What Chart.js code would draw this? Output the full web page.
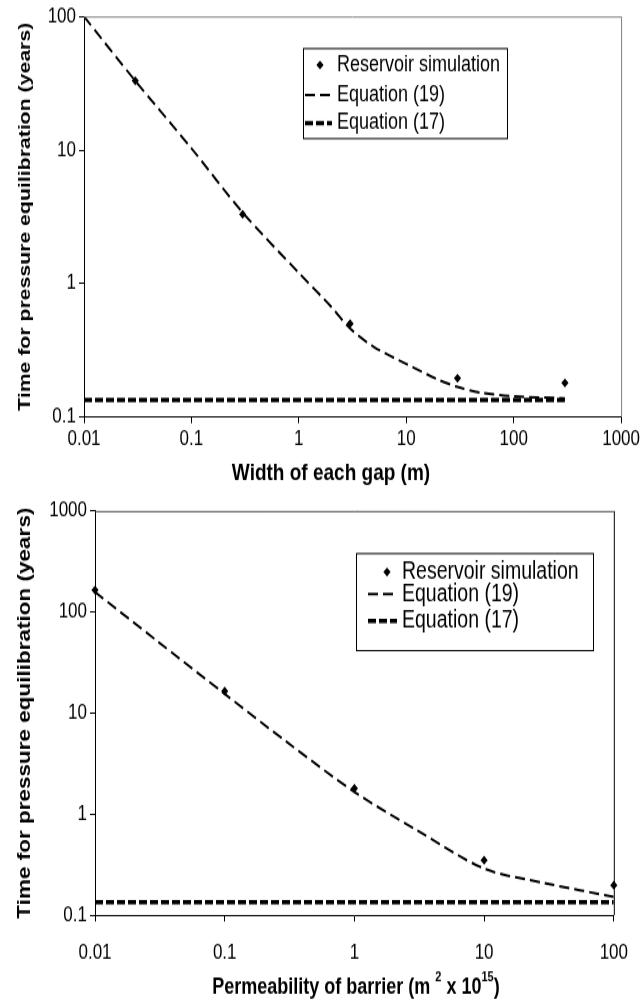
<!DOCTYPE html>
<html lang="en">
<head>
  <meta charset="UTF-8">
  <title>Time for pressure equilibration</title>
  <script src="https://cdn.jsdelivr.net/npm/chart.js"></script>
  <style>
    body { margin: 0; background: #fff; }
    /* the original figure is stretched vertically, the panels are scaled the same way */
    .panel { position: absolute; left: 0; transform-origin: 0 0; }
    #topPanel { top: 0; }
    #bottomPanel { top: 490px; }
  </style>
</head>
<body>
  <div class="panel" id="topPanel"><canvas id="gapChart"></canvas></div>
  <div class="panel" id="bottomPanel"><canvas id="permChart"></canvas></div>

  <script>
    // --- top panel: width of each gap ---
    const gapSimX = [0.03, 0.3, 3, 30, 300];
    const gapSimY = [33, 3.3, 0.5, 0.195, 0.18];
    const gapEqX = [0.01, 0.03, 0.1, 0.3, 1, 2, 3, 5, 10, 20, 30, 50, 100, 300];
    const gapEq19 = [100, 33, 10.3, 3.4, 1.2, 0.67, 0.46, 0.335, 0.25, 0.19, 0.168, 0.152, 0.143, 0.138];
    const gapEq17X = [0.01, 300];
    const gapEq17 = [0.134, 0.134];
    const gapXTicks = [0.01, 0.1, 1, 10, 100, 1000];
    const gapYTicks = [0.1, 1, 10, 100];

    // --- bottom panel: permeability of barrier ---
    const permSimX = [0.01, 0.1, 1, 10, 100];
    const permSimY = [165, 16.5, 1.8, 0.35, 0.198];
    const permEqX = [0.01, 0.03, 0.1, 0.3, 1, 3, 10, 30, 100];
    const permEq19 = [158, 52, 15.5, 5.2, 1.66, 0.70, 0.29, 0.207, 0.152];
    const permEq17X = [0.01, 100];
    const permEq17 = [0.135, 0.135];
    const permXTicks = [0.01, 0.1, 1, 10, 100];
    const permYTicks = [0.1, 1, 10, 100, 1000];

    const seriesNames = ['Reservoir simulation', 'Equation (19)', 'Equation (17)'];
    const yTitle = 'Time for pressure equilibration (years)';

    const K = 1.25; // vertical stretch of the figure
    const SANS = "'Liberation Sans', Arial, sans-serif";

    const pts = (xs, ys) => xs.map((x, i) => ({ x: x, y: ys[i] }));

    // top and right edges of the plot box
    const framePlugin = {
      id: 'frame',
      afterDraw(chart, args, opts) {
        const a = chart.chartArea, ctx = chart.ctx;
        ctx.save();
        ctx.lineWidth = 1;
        if (opts.top) {
          ctx.strokeStyle = opts.top;
          ctx.beginPath(); ctx.moveTo(a.left, a.top + 0.5); ctx.lineTo(a.right, a.top + 0.5); ctx.stroke();
        }
        if (opts.right) {
          ctx.strokeStyle = opts.right;
          ctx.beginPath(); ctx.moveTo(a.right + 0.5, a.top); ctx.lineTo(a.right + 0.5, a.bottom); ctx.stroke();
        }
        ctx.restore();
      }
    };

    // boxed legend inside the plot, built from the datasets
    const boxLegendPlugin = {
      id: 'boxLegend',
      afterDraw(chart, args, o) {
        const ctx = chart.ctx;
        ctx.save();
        ctx.fillStyle = '#fff';
        ctx.fillRect(o.x, o.y, o.w, o.h);
        ctx.strokeStyle = '#000';
        ctx.lineWidth = 1;
        ctx.strokeRect(o.x + 0.5, o.y + 0.5, o.w, o.h);
        ctx.font = o.fontSize + 'px ' + SANS;
        ctx.textBaseline = 'middle';
        ctx.fillStyle = '#000';
        chart.data.datasets.forEach((ds, i) => {
          const y = o.rows[i];
          if (ds.showLine === false) {
            const r = ds.pointRadius;
            ctx.beginPath();
            ctx.moveTo(o.markerX, y - r); ctx.lineTo(o.markerX + r, y);
            ctx.lineTo(o.markerX, y + r); ctx.lineTo(o.markerX - r, y);
            ctx.closePath(); ctx.fill();
          } else {
            ctx.save();
            ctx.strokeStyle = '#000';
            ctx.lineWidth = ds.borderWidth;
            ctx.setLineDash(ds.borderDash);
            ctx.beginPath(); ctx.moveTo(o.lineX0, y); ctx.lineTo(o.lineX1, y); ctx.stroke();
            ctx.restore();
          }
          ctx.fillText(ds.label, o.textX, y);
        });
        ctx.restore();
      }
    };

    // x-axis title with optional superscript parts
    const xTitlePlugin = {
      id: 'xTitle',
      afterDraw(chart, args, o) {
        const ctx = chart.ctx;
        ctx.save();
        ctx.fillStyle = '#000';
        ctx.textBaseline = 'middle';
        const big = 'bold ' + o.fontSize + 'px ' + SANS;
        const small = 'bold ' + Math.round(o.fontSize * 0.6) + 'px ' + SANS;
        let total = 0;
        o.parts.forEach(p => { ctx.font = p.sup ? small : big; total += ctx.measureText(p.text).width; });
        let x = o.cx - total / 2;
        o.parts.forEach(p => {
          ctx.font = p.sup ? small : big;
          ctx.fillText(p.text, x, p.sup ? o.cy - o.fontSize * 0.4 : o.cy);
          x += ctx.measureText(p.text).width;
        });
        ctx.restore();
      }
    };

    function logAxis(tickValues, fitSize, labelPad, horizontal, title) {
      const axis = {
        type: 'logarithmic',
        min: tickValues[0],
        max: tickValues[tickValues.length - 1],
        afterBuildTicks: s => { s.ticks = tickValues.map(v => ({ value: v })); },
        afterFit: s => { if (horizontal) s.height = fitSize; else s.width = fitSize; },
        ticks: {
          autoSkip: false, maxRotation: 0, padding: labelPad, color: '#000',
          font: { family: SANS, size: 17 },
          callback: v => String(v)
        },
        grid: { drawOnChartArea: false, drawTicks: true, tickLength: 5, color: '#000' },
        border: { display: true, color: '#000', width: 1 }
      };
      if (title) axis.title = title;
      return axis;
    }

    // cfg positions are given in page pixels; vertical ones are divided by K
    function makeChart(id, cfg) {
      const canvas = document.getElementById(id);
      canvas.width = 643;
      canvas.height = Math.round(cfg.pageHeight / K);
      canvas.parentNode.style.transform = 'scaleY(' + K + ')';

      const lg = cfg.legend;
      const legend = {
        x: lg.x, w: lg.w, y: lg.y / K, h: lg.h / K, rows: lg.rows.map(r => r / K),
        markerX: lg.markerX, lineX0: lg.lineX0, lineX1: lg.lineX1, textX: lg.textX, fontSize: lg.fontSize
      };
      const xTitle = { cx: cfg.xTitle.cx, cy: cfg.xTitle.cy / K, fontSize: cfg.xTitle.fontSize, parts: cfg.xTitle.parts };

      return new Chart(canvas, {
        type: 'scatter',
        data: {
          datasets: [
            {
              label: seriesNames[0], data: pts(cfg.simX, cfg.simY), showLine: false,
              pointStyle: 'rectRot', pointRadius: 3.6, pointBackgroundColor: '#000',
              pointBorderWidth: 0, clip: false, order: 0
            },
            {
              label: seriesNames[1], data: pts(cfg.eqX, cfg.eq19), showLine: true,
              borderColor: '#000', borderWidth: 2, borderDash: [10, 5], pointRadius: 0,
              tension: 0.3, order: 1
            },
            {
              label: seriesNames[2], data: pts(cfg.eq17X, cfg.eq17), showLine: true,
              borderColor: '#000', borderWidth: 3.5, borderDash: [8, 3], pointRadius: 0, order: 2
            }
          ]
        },
        options: {
          responsive: false,
          animation: false,
          events: [],
          layout: { padding: { left: 0, top: cfg.plotTop / K, right: 643 - cfg.plotRight, bottom: 0 } },
          plugins: {
            legend: { display: false },
            tooltip: { enabled: false },
            frame: cfg.frame,
            boxLegend: legend,
            xTitle: xTitle
          },
          scales: {
            x: logAxis(cfg.xTicks, (cfg.pageHeight - cfg.plotBottom) / K, cfg.xPad, true),
            y: logAxis(cfg.yTicks, cfg.plotLeft, 3, false, {
              display: true, text: yTitle, color: '#000',
              font: { family: SANS, size: cfg.yTitleSize, weight: 'bold' },
              padding: { top: cfg.yTitlePad, bottom: 0 }
            })
          }
        },
        plugins: [framePlugin, boxLegendPlugin, xTitlePlugin]
      });
    }

    makeChart('gapChart', {
      simX: gapSimX, simY: gapSimY, eqX: gapEqX, eq19: gapEq19, eq17X: gapEq17X, eq17: gapEq17,
      xTicks: gapXTicks, yTicks: gapYTicks,
      pageHeight: 490, plotLeft: 84, plotRight: 622, plotTop: 15, plotBottom: 417,
      xPad: 3, yTitleSize: 17, yTitlePad: 15,
      frame: { top: '#808080', right: '#808080' },
      legend: { x: 303, y: 48, w: 204, h: 90, rows: [65, 95, 123], markerX: 320, lineX0: 305, lineX1: 332, textX: 337, fontSize: 18 },
      xTitle: { cx: 331, cy: 474, fontSize: 19, parts: [{ text: 'Width of each gap (m)' }] }
    });

    makeChart('permChart', {
      simX: permSimX, simY: permSimY, eqX: permEqX, eq19: permEq19, eq17X: permEq17X, eq17: permEq17,
      xTicks: permXTicks, yTicks: permYTicks,
      pageHeight: 511, plotLeft: 95, plotRight: 628, plotTop: 21, plotBottom: 425,
      xPad: 15, yTitleSize: 18, yTitlePad: 14,
      frame: { top: '#404040', right: '#000' },
      legend: { x: 356, y: 63, w: 237, h: 97, rows: [82, 104, 131], markerX: 387, lineX0: 368, lineX1: 397, textX: 402, fontSize: 19.5 },
      xTitle: {
        cx: 356, cy: 497, fontSize: 18,
        parts: [{ text: 'Permeability of barrier (m ' }, { text: '2', sup: true }, { text: ' x 10' }, { text: '15', sup: true }, { text: ')' }]
      }
    });
  </script>
</body>
</html>
